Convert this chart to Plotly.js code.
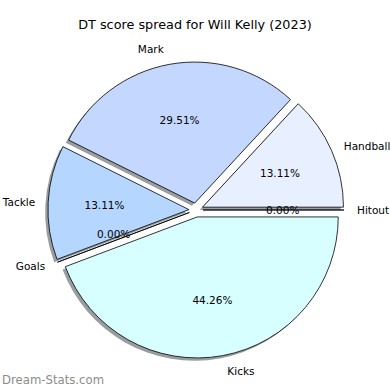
<!DOCTYPE html>
<html>
<head>
<meta charset="utf-8">
<script src="https://cdn.plot.ly/plotly-3.0.1.min.js"></script>
<style>html,body{margin:0;padding:0;background:#fff}#chart{width:390px;height:390px}</style>
</head>
<body>
<div id="chart"></div>
<script>
// ---- data (clockwise from 3 o'clock) ----
const categories = ['Kicks', 'Goals', 'Tackle', 'Mark', 'Handball', 'Hitout'];
const dtPoints = [27, 0, 8, 18, 8, 0];
const chartTitle = 'DT score spread for Will Kelly (2023)';
const watermark = 'Dream-Stats.com';

// ---- styles ----
const sliceColors = ['#D8FFFF', '#C8E0FF', '#B5D6FF', '#C4D8FF', '#E8F0FF', '#F0F4FF'];
const shadowColor = '#9a9d9f';
const explode = 0.05;
const FONT = 'DejaVu Sans, Verdana, sans-serif';

const W = 390, H = 390;
const CX = 196, CY = 180; // pie centre in px (y from bottom)
const R = 141;            // pie radius in px

function dom(cx, cy, radius) {
  return {x: [(cx - radius) / W, (cx + radius) / W], y: [(cy - radius) / H, (cy + radius) / H]};
}
const pulls = categories.map(() => explode);
const common = {type: 'pie', labels: categories, values: dtPoints, sort: false,
  direction: 'clockwise', rotation: 90, showlegend: false};

const shadow = Object.assign({}, common, {
  domain: dom(CX - 2.8, CY - 2.8, R * (1 + explode)),
  pull: pulls, marker: {colors: categories.map(() => shadowColor), line: {width: 0}},
  textinfo: 'none', hoverinfo: 'skip'
});
const main = Object.assign({}, common, {
  domain: dom(CX, CY, R * (1 + explode)),
  pull: pulls, marker: {colors: sliceColors, line: {color: '#000', width: 0.8}},
  textinfo: 'none', hoverinfo: 'label+percent'
});
// percentage labels at 0.65R (ring middle of a transparent donut)
const rp = 0.65 * R / 0.75;
const pct = Object.assign({}, common, {
  domain: dom(CX, CY, rp), hole: 0.5,
  marker: {colors: categories.map(() => 'rgba(0,0,0,0)'), line: {width: 0}},
  texttemplate: '%{percent:.2%}', textposition: 'inside', insidetextorientation: 'horizontal',
  textfont: {family: FONT, size: 10.5, color: '#000'}, hoverinfo: 'skip'
});
// percentage labels of empty slices
const pctZero = Object.assign({}, common, {
  domain: dom(CX, CY, 67),
  marker: {colors: categories.map(() => 'rgba(0,0,0,0)'), line: {width: 0}},
  texttemplate: '%{percent:.2%}', textposition: dtPoints.map(v => v === 0 ? 'outside' : 'none'),
  textfont: {family: FONT, size: 10.5, color: '#000'}, hoverinfo: 'skip'
});
// category labels
const lbl = Object.assign({}, common, {
  domain: dom(CX, CY, 158),
  marker: {colors: categories.map(() => 'rgba(0,0,0,0)'), line: {width: 0}},
  texttemplate: '%{label}', textposition: 'outside',
  textfont: {family: FONT, size: 10.5, color: '#000'}, hoverinfo: 'skip'
});

const layout = {
  width: W, height: H, margin: {l: 0, r: 0, t: 0, b: 0},
  paper_bgcolor: '#fff', plot_bgcolor: '#fff', showlegend: false,
  title: {text: chartTitle, x: 0.5, xanchor: 'center', y: 1 - 25 / H, yanchor: 'middle',
    font: {family: FONT, size: 12.8, color: '#000'}},
  annotations: [{text: watermark, xref: 'paper', yref: 'paper', x: 0, y: 10 / H,
    xanchor: 'left', yanchor: 'middle', showarrow: false,
    font: {family: FONT, size: 11.7, color: '#8c8c8c'}}]
};
Plotly.newPlot('chart', [shadow, main, pct, pctZero, lbl], layout, {displayModeBar: false, staticPlot: true});
</script>
</body>
</html>
